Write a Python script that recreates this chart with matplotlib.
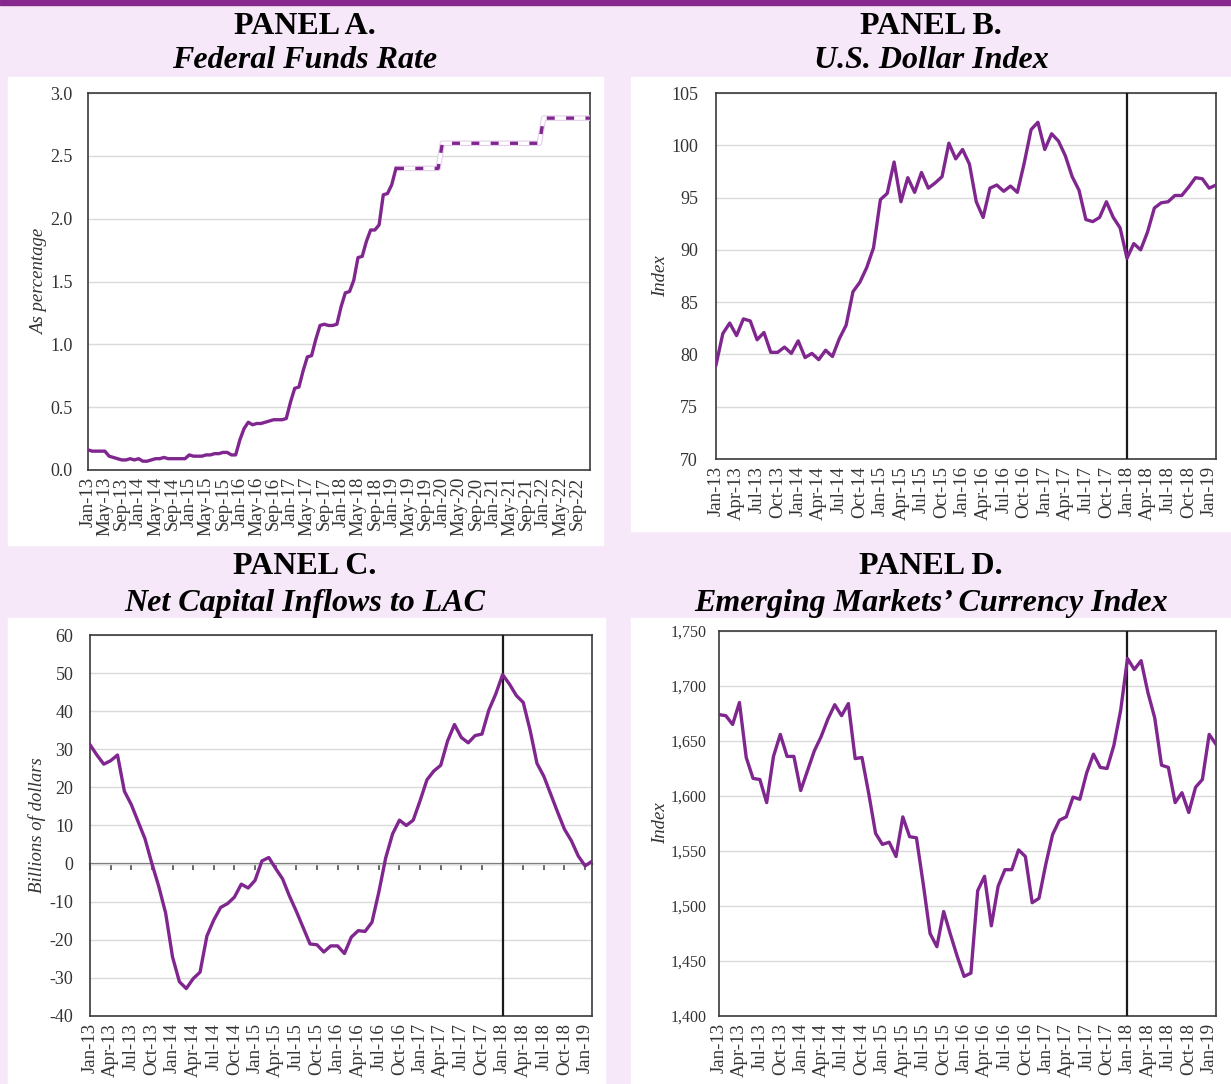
import matplotlib.pyplot as plt
import numpy as np
import pandas as pd
from matplotlib.patches import Rectangle
from matplotlib.ticker import FuncFormatter

W, H = 1231, 1084
BG = "#F6E8F8"
BAR = "#87288E"
PURPLE = "#80268F"
FRAME = "#3a3a3a"
GRID = "#DADADA"
TXT = "#333333"

plt.rcParams["font.family"] = ["Liberation Serif", "DejaVu Serif"]
plt.rcParams["axes.unicode_minus"] = False

# Panel A: federal funds rate, Jan-13 .. Feb-19 observed, Feb-19 .. Dec-22 projected
FFR_ACTUAL = [0.16, 0.15, 0.15, 0.15, 0.15, 0.11, 0.10, 0.09, 0.08, 0.08, 0.09, 0.08,
              0.09, 0.07, 0.07, 0.08, 0.09, 0.09, 0.10, 0.09, 0.09, 0.09, 0.09, 0.09,
              0.12, 0.11, 0.11, 0.11, 0.12, 0.12, 0.13, 0.13, 0.14, 0.14, 0.12, 0.12,
              0.24, 0.33, 0.38, 0.36, 0.37, 0.37, 0.38, 0.39, 0.40, 0.40, 0.40, 0.41,
              0.54, 0.65, 0.66, 0.79, 0.90, 0.91, 1.04, 1.15, 1.16, 1.15, 1.15, 1.16,
              1.30, 1.41, 1.42, 1.51, 1.69, 1.70, 1.82, 1.91, 1.91, 1.95, 2.19, 2.20,
              2.27, 2.40]
FFR_PROJ = [2.40, 2.40, 2.40, 2.40, 2.40, 2.40, 2.40, 2.40, 2.40, 2.40, 2.40,
            2.60, 2.60, 2.60, 2.60, 2.60, 2.60, 2.60, 2.60, 2.60, 2.60, 2.60, 2.60,
            2.60, 2.60, 2.60, 2.60, 2.60, 2.60, 2.60, 2.60, 2.60, 2.60, 2.60, 2.60,
            2.80, 2.80, 2.80, 2.80, 2.80, 2.80, 2.80, 2.80, 2.80, 2.80, 2.80, 2.80]

# Panels B-D: Jan-13 .. Feb-19
DXY = [79.0, 82.0, 83.0, 81.8, 83.4, 83.2, 81.4, 82.1, 80.2, 80.2, 80.7, 80.1,
       81.3, 79.7, 80.1, 79.5, 80.4, 79.8, 81.5, 82.8, 86.0, 86.9, 88.3, 90.2,
       94.8, 95.4, 98.4, 94.6, 96.9, 95.5, 97.4, 95.9, 96.4, 97.0, 100.2, 98.7,
       99.6, 98.2, 94.6, 93.1, 95.9, 96.2, 95.6, 96.1, 95.5, 98.3, 101.5, 102.2,
       99.6, 101.1, 100.4, 99.0, 97.0, 95.7, 92.9, 92.7, 93.1, 94.6, 93.1, 92.1,
       89.2, 90.6, 90.0, 91.7, 94.0, 94.5, 94.6, 95.2, 95.2, 96.0, 96.9, 96.8,
       95.9, 96.2]

LAC_FLOWS = [31.2, 28.5, 26.1, 27.0, 28.5, 19.0, 15.5, 11.0, 6.5, 0.0, -6.0, -13.0,
             -24.5, -31.0, -32.8, -30.2, -28.5, -19.0, -14.8, -11.5, -10.5, -8.8, -5.4, -6.4,
             -4.4, 0.7, 1.6, -1.3, -4.0, -8.5, -12.5, -16.8, -21.1, -21.3, -23.2, -21.6,
             -21.6, -23.6, -19.3, -17.6, -17.8, -15.4, -7.5, 1.5, 7.8, 11.4, 10.0, 11.4,
             16.5, 22.0, 24.3, 25.8, 32.2, 36.5, 33.1, 31.7, 33.6, 34.0, 40.3, 44.5,
             49.6, 47.1, 44.1, 42.3, 35.0, 26.3, 22.9, 18.2, 13.5, 9.0, 6.0, 2.0,
             -0.6, 0.6]

EM_FX = [1674, 1673, 1665, 1685, 1635, 1616, 1615, 1594, 1636, 1656, 1636, 1636,
         1605, 1623, 1641, 1654, 1670, 1683, 1673, 1684, 1634, 1635, 1602, 1566,
         1556, 1558, 1545, 1581, 1563, 1562, 1520, 1475, 1463, 1495, 1474, 1454,
         1436, 1439, 1514, 1527, 1482, 1518, 1533, 1533, 1551, 1545, 1503, 1507,
         1538, 1565, 1578, 1581, 1599, 1597, 1621, 1638, 1626, 1625, 1646, 1678,
         1725, 1715, 1723, 1694, 1671, 1628, 1626, 1594, 1603, 1585, 1608, 1615,
         1656, 1647]

MONTHS_A = pd.date_range("2013-01-01", periods=len(FFR_ACTUAL) + len(FFR_PROJ) - 1, freq="MS")
MONTHS = pd.date_range("2013-01-01", periods=len(DXY), freq="MS")
MARK = pd.Timestamp("2018-01-01")

TITLES = [("PANEL A.", "Federal Funds Rate"),
          ("PANEL B.", "U.S. Dollar Index"),
          ("PANEL C.", "Net Capital Inflows to LAC"),
          ("PANEL D.", "Emerging Markets\u2019 Currency Index")]


def fbox(l, t, r, b):
    return [l / W, 1 - b / H, (r - l) / W, (b - t) / H]


fig = plt.figure(figsize=(W / 100, H / 100), dpi=100, facecolor=BG)

# purple band on top and white panel backgrounds (drawn below the axes)
fig.patches.append(Rectangle((0, 1 - 5 / H), 1, 5 / H, transform=fig.transFigure,
                             color=BAR, zorder=-2))
for l, t, r, b in [(8, 77, 603, 545), (631, 77, 1231, 531),
                   (8, 618, 605, 1084), (631, 618, 1231, 1084)]:
    x0, y0, w, h = fbox(l, t, r, b)
    fig.patches.append(Rectangle((x0, y0), w, h, transform=fig.transFigure,
                                 color="white", zorder=-2))

# panel titles
for (top, sub), (cx, y1, y2) in zip(TITLES, [(305, 26, 61), (931, 26, 61),
                                             (305, 567, 604), (931, 567, 604)]):
    fig.text(cx / W, 1 - y1 / H, top, ha="center", va="center",
             fontsize=23, fontweight="bold")
    fig.text(cx / W, 1 - y2 / H, sub, ha="center", va="center",
             fontsize=23, fontweight="bold", fontstyle="italic")


def style(ax, ylabel, label_x, ypad, ysize=13):
    for s in ax.spines.values():
        s.set_color(FRAME)
        s.set_linewidth(1.2)
    ax.grid(axis="y", color=GRID, linewidth=1)
    ax.set_axisbelow(True)
    ax.tick_params(axis="both", length=0, colors=TXT)
    ax.tick_params(axis="y", pad=ypad, labelsize=ysize)
    ax.tick_params(axis="x", pad=5, labelsize=13.5, labelrotation=90)
    ax.set_ylabel(ylabel, fontsize=13.5, fontstyle="italic", color=TXT)
    ax.yaxis.set_label_coords(label_x, 0.5)


# Panel A
axA = fig.add_axes(fbox(88, 93, 590, 470))
xa = np.arange(len(MONTHS_A))
n_obs = len(FFR_ACTUAL)
xp = xa[n_obs - 1:]
axA.plot(xp, FFR_PROJ, color="#E6CDEB", lw=4.0, solid_capstyle="butt", zorder=3)
axA.plot(xp, FFR_PROJ, color="white", lw=2.4, solid_capstyle="butt", zorder=3)
axA.plot(xp, FFR_PROJ, color=PURPLE, lw=2.4, linestyle=(0, (2.4, 3.4)), zorder=4)
axA.plot(xa[:n_obs], FFR_ACTUAL, color=PURPLE, lw=2.4, zorder=5)
axA.set_xlim(0, len(MONTHS_A) - 1)
axA.set_ylim(0, 3.0)
axA.set_yticks(np.arange(0, 3.01, 0.5))
axA.yaxis.set_major_formatter(FuncFormatter(lambda v, p: f"{v:.1f}"))
ta = xa[::4]
axA.set_xticks(ta)
axA.set_xticklabels(MONTHS_A[::4].strftime("%b-%y"))
style(axA, "As percentage", -0.08, 11)

x = np.arange(len(MONTHS))
tx = x[::3]
tl = MONTHS[::3].strftime("%b-%y")
mark = MONTHS.get_loc(MARK)

# Panel B
axB = fig.add_axes(fbox(716, 93, 1216, 459))
axB.plot(x, DXY, color=PURPLE, lw=2.4, zorder=4)
axB.axvline(mark, color="#1a1a1a", lw=1.6, zorder=3)
axB.set_xlim(0, len(MONTHS) - 1)
axB.set_ylim(70, 105)
axB.set_yticks(np.arange(70, 106, 5))
axB.set_xticks(tx)
axB.set_xticklabels(tl)
style(axB, "Index", -0.094, 13)

# Panel C
axC = fig.add_axes(fbox(90, 635, 592, 1016))
axC.plot(x, LAC_FLOWS, color=PURPLE, lw=2.4, zorder=4)
axC.axvline(mark, color="#1a1a1a", lw=1.6, zorder=3)
axC.set_xlim(0, len(MONTHS) - 1)
axC.set_ylim(-40, 60)
axC.set_yticks(np.arange(-40, 61, 10))
axC.set_xticks(tx)
axC.set_xticklabels(tl)
style(axC, "Billions of dollars", -0.088, 12)
lo, hi = axC.get_ylim()
zero = axC.secondary_xaxis((0 - lo) / (hi - lo))
zero.set_xticks(tx)
zero.set_xticklabels([])
zero.tick_params(length=4.5, width=1.4, color="#6a6a6a", direction="out")
for s in zero.spines.values():
    s.set_color("#6a6a6a")
    s.set_linewidth(1.6)

# Panel D
axD = fig.add_axes(fbox(719, 631, 1216, 1016))
axD.plot(x, EM_FX, color=PURPLE, lw=2.4, zorder=4)
axD.axvline(mark, color="#1a1a1a", lw=1.6, zorder=3)
axD.set_xlim(0, len(MONTHS) - 1)
axD.set_ylim(1400, 1750)
axD.set_yticks(np.arange(1400, 1751, 50))
axD.yaxis.set_major_formatter(FuncFormatter(lambda v, p: f"{v:,.0f}"))
axD.set_xticks(tx)
axD.set_xticklabels(tl)
style(axD, "Index", -0.101, 9, ysize=11.5)

fig.savefig("out.png", dpi=100, facecolor=BG)
